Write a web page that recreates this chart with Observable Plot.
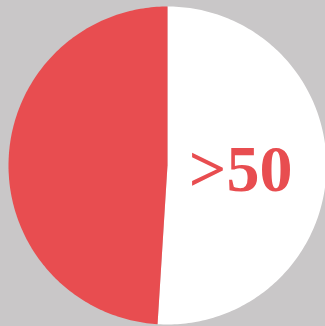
<!DOCTYPE html>
<html>
<head>
<meta charset="utf-8">
<script src="https://cdn.jsdelivr.net/npm/d3@7"></script>
<script src="https://cdn.jsdelivr.net/npm/@observablehq/plot@0.6"></script>
<style>
  html, body { margin: 0; padding: 0; background: #c9c7c8; overflow: hidden; }
</style>
</head>
<body>
<div id="chart"></div>
<script>
// Data
const categories = [">50", "≤50"];
const values = [51, 49];
const colors = ["#ffffff", "#e84d50"];
const labels = [">50", ""];

// Build slices with d3.pie (clockwise from 12 o'clock)
const pie = d3.pie().sort(null).value(d => d.value);
const arcs = pie(categories.map((c, i) => ({category: c, value: values[i], label: labels[i]})));

const points = [];
for (const a of arcs) {
  points.push({slice: a.data.category, x: 0, y: 0});
  const n = 180;
  for (let k = 0; k <= n; k++) {
    const t = a.startAngle + (a.endAngle - a.startAngle) * k / n;
    points.push({slice: a.data.category, x: Math.sin(t), y: Math.cos(t)});
  }
}
const labelData = arcs.filter(a => a.data.label).map(a => {
  const m = (a.startAngle + a.endAngle) / 2;
  return {text: a.data.label, x: 0.46 * Math.sin(m), y: 0.46 * Math.cos(m) - 0.016};
});

const chart = Plot.plot({
  width: 325,
  height: 326,
  margin: 0,
  x: {domain: [-167 / 159, 158 / 159], axis: null},
  y: {domain: [-161 / 159, 165 / 159], axis: null},
  color: {domain: categories, range: colors},
  style: {background: "#c9c7c8", overflow: "hidden"},
  marks: [
    Plot.line(points, {x: "x", y: "y", z: "slice", fill: "slice", stroke: "none", curve: "linear-closed"}),
    Plot.text(labelData, {
      x: "x", y: "y", text: "text",
      fill: "#e84d50",
      fontSize: 66,
      fontWeight: "bold",
      fontFamily: "Liberation Serif, serif",
      textAnchor: "middle"
    })
  ]
});
document.getElementById("chart").appendChild(chart);
</script>
</body>
</html>
